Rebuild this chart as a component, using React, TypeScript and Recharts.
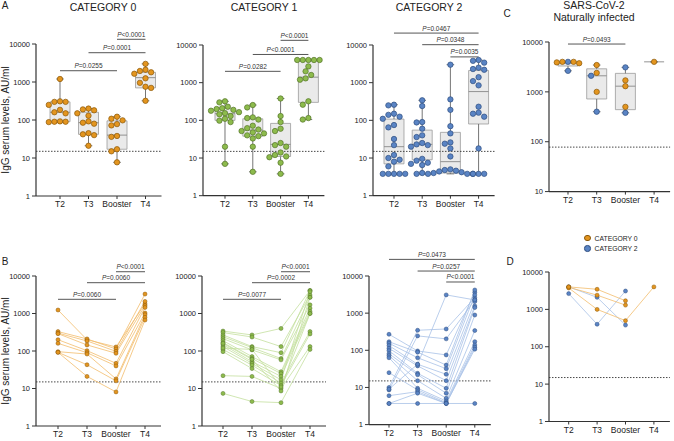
import React from 'react';
import {
  ComposedChart,
  Scatter,
  Line,
  XAxis,
  YAxis,
  ReferenceLine,
  ReferenceArea,
} from 'recharts';

const TIMEPOINTS = ['T2', 'T3', 'Booster', 'T4'];

// Panel A - IgG levels (AU/ml) per timepoint
const cat0T2 = [1200, 310, 300, 300, 250, 185, 160, 150, 92, 90, 90, 88];
const cat0T3 = [200, 190, 180, 150, 130, 92, 85, 80, 45, 42, 40, 21];
const cat0Booster = [122, 108, 98, 78, 72, 38, 36, 17, 15, 7.7];
const cat0T4 = [3000, 2100, 1950, 1800, 1650, 1250, 950, 750, 700, 320];

const cat1T2 = [320, 300, 230, 210, 200, 190, 180, 165, 155, 145, 130, 110, 98, 90, 20, 7];
const cat1T3 = [255, 220, 120, 115, 105, 72, 62, 57, 52, 48, 45, 40, 38, 33, 20, 4.3];
const cat1Booster = [380, 130, 90, 60, 52, 25, 22, 20, 14, 12, 11, 10.5, 7.5, 3.8];
const cat1T4 = [4000, 4000, 4000, 4000, 4000, 2700, 2000, 1600, 1300, 1200, 320, 260, 115, 105];

const cat2T2 = [260, 250, 150, 140, 125, 110, 75, 65, 32, 22, 12, 10, 9, 8, 6, 3.8, 3.8, 3.8, 3.8, 3.8];
const cat2T3 = [340, 240, 90, 88, 60, 40, 36, 25, 23, 22, 20, 9.5, 8.5, 7.5, 7, 6.5, 4, 3.8];
const cat2Booster = [3000, 360, 190, 70, 45, 26, 24, 18, 11, 5, 4.8, 4.6, 4.4, 4.2, 4, 3.8, 3.8, 3.8];
const cat2T4 = [4000, 3800, 3400, 2500, 2300, 2200, 1400, 1100, 850, 230, 160, 150, 125, 18, 3.8, 3.8, 3.8];

// box stats (T2, T3, Booster, T4)
const cat0Q1 = [90, 42, 17, 700];
const cat0Median = [160, 85, 40, 1300];
const cat0Q3 = [300, 160, 95, 1800];
const cat1Q1 = [100, 38, 11, 300];
const cat1Median = [150, 55, 23, 1400];
const cat1Q3 = [210, 110, 83, 4000];
const cat2Q1 = [7, 9, 4, 80];
const cat2Median = [20, 23, 8, 580];
const cat2Q3 = [108, 55, 48, 2100];

// Panel C / D - naturally infected, one row per subject: T2, T3, Booster, T4
const natCat0Subjects = [
  [4000, 3450, 1700, null],
  [3900, 2400, 1300, null],
  [3750, 1000, 500, 4000],
  [4000, null, null, null],
];
const natCat2Subjects = [
  [4000, 2100, 380, null],
  [2640, 400, 3100, null],
];
const natQ1 = [3300, 720, 440, 4000];
const natMedian = [3800, 2100, 1300, 4000];
const natQ3 = [4050, 2900, 2350, 4000];

// Panel B - paired subjects: T2, T3, Booster, T4
const cat0Subjects = [
  [1240, 200, 128, 1800],
  [330, 210, 113, 3300],
  [300, 185, 98, 2100],
  [290, 145, 87, 1620],
  [200, 102, 47, 1450],
  [160, 90, 40, 1030],
  [96, 83, 18, 930],
  [92, 43, 16, 790],
  [92, 21, 8.1, 670],
];
const cat1Subjects = [
  [340, 268, 400, 4100],
  [310, 236, 131, 3100],
  [268, 131, 90, 4100],
  [240, 123, 63, 2700],
  [214, 107, 58, 1700],
  [189, 71, 28, 1380],
  [167, 63, 25, 1130],
  [148, 52, 21, 1000],
  [131, 47, 17, 3800],
  [110, 42, 14, 330],
  [96, 34, 12, 285],
  [22, 21, 10, 131],
  [7.4, 4.5, 4.2, 110],
  [160, 60, 8.6, 2700],
  [120, 110, 11, 1000],
];
const cat2Subjects = [
  [10, 346, 375, 2600],
  [8.6, 244, 203, 2270],
  [270, 96, 75, 3650],
  [170, 89, 40, 4200],
  [155, 63, 32, 3100],
  [134, 42, 22.6, 2050],
  [113, 38, 15.2, 1560],
  [98, 24, 9.5, 1410],
  [81, 22, 7, 890],
  [72, 15.2, 5.1, 340],
  [63, 9.5, 4.3, 171],
  [25, 8.6, 3.9, 139],
  [6, 7.7, 3.7, 121],
  [3.7, 7, 3.7, 107],
  [3.7, 3.7, 3.7, 3.7],
  [9, 42, 3100, 2270],
];

// P-value annotations
const PAIRS_NEAR = [[0, 2], [1, 3], [2, 3]];
const PAIRS_T4 = [[0, 3], [1, 3], [2, 3]];
const PAIRS_C = [[0, 2]];
const cat0PLabelsA = ['P=0.0255', 'P=0.0001', 'P<0.0001'];
const cat1PLabelsA = ['P=0.0282', 'P<0.0001', 'P<0.0001'];
const cat2PLabelsA = ['P=0.0467', 'P=0.0348', 'P=0.0035'];
const natPLabels = ['P=0.0493'];
const cat0PLabelsB = ['P=0.0060', 'P=0.0060', 'P<0.0001'];
const cat1PLabelsB = ['P=0.0077', 'P=0.0002', 'P<0.0001'];
const cat2PLabelsB = ['P=0.0473', 'P=0.0257', 'P<0.0001'];

type Palette = { dot: string; edge: string; line: string };
const ORANGE: Palette = { dot: '#E3951F', edge: '#8A5708', line: '#F3BD6C' };
const GREEN: Palette = { dot: '#8DBB4C', edge: '#55742A', line: '#C4DF9E' };
const BLUE: Palette = { dot: '#5A84C4', edge: '#2E4D7F', line: '#A8C1E7' };

type Layout = {
  axisX: number;
  t2X: number;
  step: number;
  yTop: number;
  yBot: number;
  yMin: number;
  threshold: number;
  levels: number[];
};

const Y_MAX = 10000;
const M_TOP = 50;
const M_LEFT = 2;
const M_RIGHT = 4;
const AXIS_W = 30;
const X_AXIS_H = 26;
const END_PAD = 16;
const DOT_GAP = 5.6;
const AXIS_COLOR = '#333';

const LAYOUT_A0: Layout = { axisX: 36, t2X: 60, step: 28.5, yTop: 44, yBot: 196, yMin: 1, threshold: 15, levels: [1980, 5900, 13300] };
const LAYOUT_A1: Layout = { axisX: 203, t2X: 225, step: 27.8, yTop: 45, yBot: 195.7, yMin: 1, threshold: 15, levels: [2000, 5600, 13300] };
const LAYOUT_A2: Layout = { axisX: 373, t2X: 394, step: 28.2, yTop: 45, yBot: 195.7, yMin: 1, threshold: 15, levels: [20700, 10200, 4830] };
const LAYOUT_C: Layout = { axisX: 549, t2X: 568, step: 28.7, yTop: 41.7, yBot: 191.3, yMin: 10, threshold: 78, levels: [9100] };
const LAYOUT_B0: Layout = { axisX: 36, t2X: 58, step: 29, yTop: 276, yBot: 426, yMin: 1, threshold: 15, levels: [2390, 6630, 13000] };
const LAYOUT_B1: Layout = { axisX: 202, t2X: 223, step: 29, yTop: 276, yBot: 426, yMin: 1, threshold: 15, levels: [2390, 6630, 13000] };
const LAYOUT_B2: Layout = { axisX: 369, t2X: 389, step: 28.6, yTop: 275.7, yBot: 424.3, yMin: 1, threshold: 15, levels: [28000, 13600, 6900] };
const LAYOUT_D: Layout = { axisX: 549.3, t2X: 569, step: 28.4, yTop: 272, yBot: 421.5, yMin: 1, threshold: 15, levels: [] };

function frame(l: Layout) {
  const plotW = l.t2X + 3 * l.step + END_PAD - l.axisX;
  const plotH = l.yBot - l.yTop;
  const ticks: number[] = [];
  for (let v = l.yMin; v <= Y_MAX; v *= 10) ticks.push(v);
  return {
    style: { position: 'absolute' as const, left: l.axisX - AXIS_W - M_LEFT, top: l.yTop - M_TOP },
    width: M_LEFT + AXIS_W + plotW + M_RIGHT,
    height: M_TOP + plotH + X_AXIS_H,
    xDomain: [-(l.t2X - l.axisX) / l.step, 3 + END_PAD / l.step],
    decadePx: plotH / Math.log10(Y_MAX / l.yMin),
    ticks,
  };
}
type Frame = ReturnType<typeof frame>;

function axes(l: Layout, f: Frame) {
  return [
    <XAxis
      key="x"
      type="number"
      dataKey="x"
      domain={f.xDomain}
      allowDataOverflow
      ticks={[0, 1, 2, 3]}
      interval={0}
      tickFormatter={(i: number) => TIMEPOINTS[i] ?? ''}
      tick={{ fontSize: 8.5, fill: '#222' }}
      tickSize={3}
      height={X_AXIS_H}
      axisLine={{ stroke: AXIS_COLOR, strokeWidth: 1.2 }}
      tickLine={{ stroke: AXIS_COLOR }}
    />,
    <YAxis
      key="y"
      type="number"
      dataKey="y"
      scale="log"
      domain={[l.yMin, Y_MAX]}
      allowDataOverflow
      ticks={f.ticks}
      interval={0}
      width={AXIS_W}
      tick={{ fontSize: 7.5, fill: '#222' }}
      tickSize={4}
      axisLine={{ stroke: AXIS_COLOR, strokeWidth: 1.2 }}
      tickLine={{ stroke: AXIS_COLOR }}
    />,
    <ReferenceLine key="thr" y={l.threshold} stroke="#333" strokeDasharray="1.5 1.5" strokeWidth={0.9} ifOverflow="visible" />,
  ];
}

const pLabel = (text: string) => (props: any) => {
  const vb = props?.viewBox ?? {};
  const cx = (vb.x ?? 0) + (vb.width ?? 0) / 2;
  return (
    <text x={cx} y={(vb.y ?? 0) - 2.5} textAnchor="middle" fontSize={6.5} fill="#333">
      <tspan fontStyle="italic">P</tspan>
      {text.slice(1)}
    </text>
  );
};

function brackets(pairs: number[][], labels: string[], levels: number[]) {
  return pairs.map(([a, b], k) => (
    <ReferenceLine
      key={`p${k}`}
      segment={[{ x: a, y: levels[k] }, { x: b, y: levels[k] }]}
      stroke="#555"
      strokeWidth={1}
      ifOverflow="visible"
      label={pLabel(labels[k])}
    />
  ));
}

function swarm(items: { v: number; g: number }[], center: number, step: number, decadePx: number) {
  const order = [...items].sort((a, b) => b.v - a.v);
  const placed: { px: number; py: number }[] = [];
  return order.map(({ v, g }) => {
    const py = Math.log10(v) * decadePx;
    let off = 0;
    for (let s = 0; s < 60; s++) {
      const cand = s === 0 ? 0 : (s % 2 ? -1 : 1) * Math.ceil(s / 2) * DOT_GAP * 0.5;
      if (placed.every((p) => Math.hypot(p.px - cand, p.py - py) >= DOT_GAP)) {
        off = cand;
        break;
      }
    }
    placed.push({ px: off, py });
    return { x: center + off / step, y: v, g };
  });
}

const dotShape = (pal: Palette, r: number) => (p: any) =>
  <circle cx={p.cx} cy={p.cy} r={r} fill={pal.dot} stroke={pal.edge} strokeWidth={0.7} />;

type Group = { palette: Palette; values: (number | null)[][] };

function BoxPanel({ layout, groups, q1, median, q3, pairs, labels }: {
  layout: Layout; groups: Group[]; q1: number[]; median: number[]; q3: number[]; pairs: number[][]; labels: string[];
}) {
  const f = frame(layout);
  const cols = TIMEPOINTS.map((_, i) =>
    groups.flatMap((grp, g) =>
      (grp.values[i] ?? []).filter((v): v is number => v != null).map((v) => ({ v, g }))
    )
  );
  const pts = cols.flatMap((items, i) => swarm(items, i, layout.step, f.decadePx));
  const half = 10 / layout.step;
  const cap = 3.8 / layout.step;
  const wk = { stroke: '#666', strokeWidth: 0.9, ifOverflow: 'visible' as const };

  const boxEls = cols.flatMap((items, i) => {
    const vals = items.map((d) => d.v);
    const lo = Math.min(...vals);
    const hi = Math.max(...vals);
    return [
      <ReferenceArea key={`b${i}`} x1={i - half} x2={i + half} y1={q1[i]} y2={q3[i]} fill="#EAEAEA" fillOpacity={1} stroke="#9C9C9C" strokeWidth={0.8} ifOverflow="visible" />,
      <ReferenceLine key={`wu${i}`} segment={[{ x: i, y: q3[i] }, { x: i, y: hi }]} {...wk} />,
      <ReferenceLine key={`wl${i}`} segment={[{ x: i, y: lo }, { x: i, y: q1[i] }]} {...wk} />,
      <ReferenceLine key={`cu${i}`} segment={[{ x: i - cap, y: hi }, { x: i + cap, y: hi }]} {...wk} />,
      <ReferenceLine key={`cl${i}`} segment={[{ x: i - cap, y: lo }, { x: i + cap, y: lo }]} {...wk} />,
      <ReferenceLine key={`m${i}`} segment={[{ x: i - half, y: median[i] }, { x: i + half, y: median[i] }]} stroke="#888" strokeWidth={0.9} ifOverflow="visible" />,
    ];
  });

  return (
    <div style={f.style}>
      <ComposedChart width={f.width} height={f.height} margin={{ top: M_TOP, right: M_RIGHT, bottom: 0, left: M_LEFT }}>
        {axes(layout, f)}
        {boxEls}
        {brackets(pairs, labels, layout.levels)}
        {groups.map((grp, g) => (
          <Scatter key={`s${g}`} data={pts.filter((p) => p.g === g)} isAnimationActive={false} shape={dotShape(grp.palette, 2.7)} />
        ))}
      </ComposedChart>
    </div>
  );
}

type SubjectGroup = { palette: Palette; subjects: (number | null)[][] };

function LinePanel({ layout, groups, pairs, labels }: {
  layout: Layout; groups: SubjectGroup[]; pairs: number[][]; labels: string[];
}) {
  const f = frame(layout);
  const rows = TIMEPOINTS.map((_, t) => {
    const r: Record<string, number | null> = { x: t };
    groups.forEach((grp, g) => grp.subjects.forEach((s, k) => { r[`g${g}s${k}`] = s[t]; }));
    return r;
  });
  return (
    <div style={f.style}>
      <ComposedChart data={rows} width={f.width} height={f.height} margin={{ top: M_TOP, right: M_RIGHT, bottom: 0, left: M_LEFT }}>
        {axes(layout, f)}
        {brackets(pairs, labels, layout.levels)}
        {groups.flatMap((grp, g) =>
          grp.subjects.map((_, k) => (
            <Line
              key={`g${g}s${k}`}
              type="linear"
              dataKey={`g${g}s${k}`}
              stroke={grp.palette.line}
              strokeWidth={0.8}
              dot={{ r: 2, fill: grp.palette.dot, stroke: grp.palette.edge, strokeWidth: 0.5 }}
              activeDot={false}
              connectNulls={false}
              isAnimationActive={false}
            />
          ))
        )}
      </ComposedChart>
    </div>
  );
}

function Txt({ x, y, size, children, bold }: { x: number; y: number; size: number; children: React.ReactNode; bold?: boolean }) {
  return (
    <div style={{ position: 'absolute', left: x, top: y, transform: 'translate(-50%, -50%)', fontSize: size, lineHeight: 1, whiteSpace: 'nowrap', fontWeight: bold ? 'bold' : 'normal' }}>
      {children}
    </div>
  );
}

function YTitle({ y }: { y: number }) {
  return (
    <div style={{ position: 'absolute', left: 6, top: y, transform: 'translate(-50%, -50%) rotate(-90deg)', fontSize: 10, lineHeight: 1, whiteSpace: 'nowrap' }}>
      IgG serum levels, AU/ml
    </div>
  );
}

function LegendItem({ y, pal, text }: { y: number; pal: Palette; text: string }) {
  return (
    <div style={{ position: 'absolute', left: 584, top: y - 4, height: 8, display: 'flex', alignItems: 'center', fontSize: 6.8, whiteSpace: 'nowrap' }}>
      <span style={{ width: 4.6, height: 4.6, borderRadius: '50%', background: pal.dot, border: `0.5px solid ${pal.edge}`, marginRight: 4, display: 'inline-block' }} />
      {text}
    </div>
  );
}

const col = (subjects: (number | null)[][]) => TIMEPOINTS.map((_, i) => subjects.map((s) => s[i]));

export default function App() {
  return (
    <div style={{ position: 'absolute', left: 0, top: 0, width: 674, height: 441, background: '#fff', overflow: 'hidden', fontFamily: '"Liberation Sans", Arial, sans-serif', color: '#222' }}>
      <BoxPanel layout={LAYOUT_A0} groups={[{ palette: ORANGE, values: [cat0T2, cat0T3, cat0Booster, cat0T4] }]} q1={cat0Q1} median={cat0Median} q3={cat0Q3} pairs={PAIRS_NEAR} labels={cat0PLabelsA} />
      <BoxPanel layout={LAYOUT_A1} groups={[{ palette: GREEN, values: [cat1T2, cat1T3, cat1Booster, cat1T4] }]} q1={cat1Q1} median={cat1Median} q3={cat1Q3} pairs={PAIRS_NEAR} labels={cat1PLabelsA} />
      <BoxPanel layout={LAYOUT_A2} groups={[{ palette: BLUE, values: [cat2T2, cat2T3, cat2Booster, cat2T4] }]} q1={cat2Q1} median={cat2Median} q3={cat2Q3} pairs={PAIRS_T4} labels={cat2PLabelsA} />
      <BoxPanel layout={LAYOUT_C} groups={[{ palette: BLUE, values: col(natCat2Subjects) }, { palette: ORANGE, values: col(natCat0Subjects) }]} q1={natQ1} median={natMedian} q3={natQ3} pairs={PAIRS_C} labels={natPLabels} />
      <LinePanel layout={LAYOUT_B0} groups={[{ palette: ORANGE, subjects: cat0Subjects }]} pairs={PAIRS_NEAR} labels={cat0PLabelsB} />
      <LinePanel layout={LAYOUT_B1} groups={[{ palette: GREEN, subjects: cat1Subjects }]} pairs={PAIRS_NEAR} labels={cat1PLabelsB} />
      <LinePanel layout={LAYOUT_B2} groups={[{ palette: BLUE, subjects: cat2Subjects }]} pairs={PAIRS_T4} labels={cat2PLabelsB} />
      <LinePanel layout={LAYOUT_D} groups={[{ palette: BLUE, subjects: natCat2Subjects }, { palette: ORANGE, subjects: natCat0Subjects }]} pairs={[]} labels={[]} />

      <Txt x={5} y={6} size={10}>A</Txt>
      <Txt x={5} y={262} size={10}>B</Txt>
      <Txt x={507} y={14} size={10}>C</Txt>
      <Txt x={510} y={262} size={10}>D</Txt>
      <Txt x={103} y={7} size={10.5}>CATEGORY 0</Txt>
      <Txt x={264} y={7} size={10.5}>CATEGORY 1</Txt>
      <Txt x={429} y={7} size={10.5}>CATEGORY 2</Txt>
      <Txt x={594} y={5} size={10.5}>SARS-CoV-2</Txt>
      <Txt x={594} y={17} size={10.5}>Naturally infected</Txt>
      <YTitle y={120} />
      <YTitle y={351} />
      <LegendItem y={238} pal={ORANGE} text="CATEGORY 0" />
      <LegendItem y={248.5} pal={BLUE} text="CATEGORY 2" />
    </div>
  );
}
